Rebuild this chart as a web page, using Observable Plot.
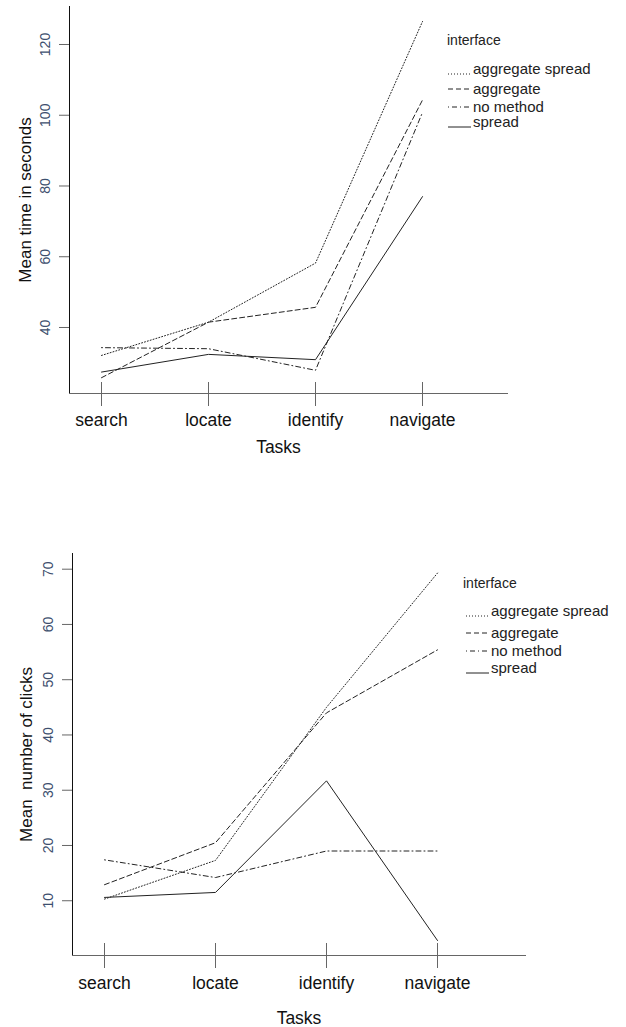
<!DOCTYPE html>
<html>
<head>
<meta charset="utf-8">
<script src="https://cdn.jsdelivr.net/npm/d3@7"></script>
<script src="https://cdn.jsdelivr.net/npm/@observablehq/plot@0.6"></script>
<style>
  html, body { margin: 0; padding: 0; background: #fff; }
  .panel { position: relative; width: 626px; }
  .panel svg { display: block; }
  .legend { position: absolute; font-family: "Liberation Sans", Arial, sans-serif; color: #222; }
  .legend .title { position: absolute; font-size: 14px; white-space: nowrap; line-height: 1; }
  .legend .row { position: absolute; font-size: 15px; white-space: nowrap; line-height: 1; }
  .legend svg { position: absolute; overflow: visible; }
</style>
</head>
<body>
<div id="top" class="panel"></div>
<div id="bottom" class="panel"></div>
<script>
// ---- data ----
const tasks = ["search", "locate", "identify", "navigate"];
const interfaces = ["aggregate spread", "aggregate", "no method", "spread"];

// Mean time in seconds
const timeAggregateSpread = [32.1, 41.5, 58.2, 126.5];
const timeAggregate       = [25.8, 41.5, 45.7, 104.3];
const timeNoMethod        = [34.3, 34.0, 27.9, 100.8];
const timeSpread          = [27.4, 32.4, 30.9, 77.0];

// Mean number of clicks
const clicksAggregateSpread = [10.3, 17.3, 45.0, 69.3];
const clicksAggregate       = [12.9, 20.5, 44.0, 55.4];
const clicksNoMethod        = [17.4, 14.2, 19.0, 19.0];
const clicksSpread          = [10.6, 11.5, 31.7, 2.8];

const timeTicks = [40, 60, 80, 100, 120];
const clickTicks = [10, 20, 30, 40, 50, 60, 70];

// ---- styles ----
const dashes = {
  "aggregate spread": "1,2",
  "aggregate": "5,3",
  "no method": "1,3,5,3",
  "spread": null
};
const font = "'Liberation Sans', Arial, sans-serif";
const tickColor = "#3d4f6e";
const lineColor = "#222";
const axisGray = "#666";

function rows(series) {
  const out = [];
  interfaces.forEach((iface, i) => {
    series[i].forEach((v, j) => out.push({task: tasks[j], iface, value: v}));
  });
  return out;
}

function panel(cfg) {
  const data = rows(cfg.series);
  const frameH = cfg.height - cfg.marginTop - cfg.marginBottom;
  const frameW = 626 - cfg.marginLeft - cfg.marginRight;
  const marks = [];
  for (const iface of interfaces) {
    marks.push(Plot.line(data.filter(d => d.iface === iface), {
      x: "task", y: "value", stroke: lineColor, strokeWidth: 1,
      strokeDasharray: dashes[iface]
    }));
  }
  marks.push(
    Plot.frame({anchor: "left", stroke: "#111"}),
    Plot.frame({anchor: "bottom", stroke: axisGray}),
    // y ticks (outward)
    Plot.ruleY(cfg.ticks, {y: d => d, insetLeft: -10, insetRight: frameW, stroke: axisGray}),
    Plot.text(cfg.ticks, {y: d => d, text: d => String(d), frameAnchor: "left", dx: -24,
      rotate: -90, textAnchor: "middle", lineAnchor: "middle", fontSize: 14, fill: tickColor}),
    Plot.text([cfg.ylabel], {frameAnchor: "left", dx: cfg.ylabelDx, rotate: -90,
      textAnchor: "middle", lineAnchor: "middle", fontSize: 17, fill: "#111"}),
    // x ticks crossing the axis line
    Plot.ruleX(tasks, {x: d => d, insetTop: frameH - cfg.tickUp, insetBottom: -cfg.tickDown, stroke: axisGray}),
    Plot.text(tasks, {x: d => d, frameAnchor: "bottom", dy: cfg.labelDy, lineAnchor: "middle",
      fontSize: 17.5, fill: "#111"}),
    Plot.text(["Tasks"], {frameAnchor: "bottom", dy: cfg.titleDy, dx: cfg.titleDx, lineAnchor: "middle",
      fontSize: 17.5, fill: "#111"})
  );
  return Plot.plot({
    width: 626,
    height: cfg.height,
    marginTop: cfg.marginTop,
    marginBottom: cfg.marginBottom,
    marginLeft: cfg.marginLeft,
    marginRight: cfg.marginRight,
    style: {fontFamily: font, background: "#fff"},
    x: {type: "point", domain: tasks, range: cfg.xRange, padding: 0, axis: null},
    y: {domain: cfg.yDomain, axis: null},
    marks
  });
}

function legend(container, cfg) {
  const lg = document.createElement("div");
  lg.className = "legend";
  lg.style.left = "0px"; lg.style.top = "0px";
  const t = document.createElement("div");
  t.className = "title";
  t.textContent = "interface";
  t.style.left = cfg.titleX + "px";
  t.style.top = (cfg.titleY - 7) + "px";
  lg.appendChild(t);
  const ns = "http://www.w3.org/2000/svg";
  interfaces.forEach((iface, i) => {
    const cy = cfg.rows[i];
    const r = document.createElement("div");
    r.className = "row";
    r.textContent = iface;
    r.style.left = cfg.textX + "px";
    r.style.top = (cy - 8) + "px";
    lg.appendChild(r);
    const s = document.createElementNS(ns, "svg");
    s.setAttribute("width", 30); s.setAttribute("height", 20);
    s.style.left = cfg.sampleX0 + "px";
    s.style.top = (cy - 10) + "px";
    const ln = document.createElementNS(ns, "line");
    const off = (iface === "aggregate spread" || iface === "spread") ? 15 : 10;
    ln.setAttribute("x1", 0); ln.setAttribute("x2", cfg.sampleX1 - cfg.sampleX0);
    ln.setAttribute("y1", off); ln.setAttribute("y2", off);
    ln.setAttribute("stroke", lineColor);
    ln.setAttribute("stroke-width", 1);
    if (dashes[iface]) ln.setAttribute("stroke-dasharray", dashes[iface]);
    s.appendChild(ln);
    lg.appendChild(s);
  });
  container.appendChild(lg);
}

const topEl = document.getElementById("top");
topEl.appendChild(panel({
  series: [timeAggregateSpread, timeAggregate, timeNoMethod, timeSpread],
  ticks: timeTicks,
  ylabel: "Mean time in seconds",
  ylabelDx: -44,
  height: 470, marginTop: 6, marginBottom: 77, marginLeft: 69, marginRight: 119,
  yDomain: [21.34, 130.74],
  xRange: [101, 422],
  tickUp: 11, tickDown: 13, labelDy: 27, titleDy: 54, titleDx: -10
}));
legend(topEl, {titleX: 447, titleY: 40, rows: [69, 89, 107, 122], textX: 473, sampleX0: 448, sampleX1: 471});

const botEl = document.getElementById("bottom");
botEl.appendChild(panel({
  series: [clicksAggregateSpread, clicksAggregate, clicksNoMethod, clicksSpread],
  ticks: clickTicks,
  ylabel: "Mean  number of clicks",
  ylabelDx: -46,
  height: 557, marginTop: 83, marginBottom: 72, marginLeft: 72, marginRight: 101,
  yDomain: [0.09, 72.84],
  xRange: [103, 437],
  tickUp: 12, tickDown: 13, labelDy: 28, titleDy: 63, titleDx: 0
}));
legend(botEl, {titleX: 463, titleY: 583 - 470, rows: [611 - 470, 633 - 470, 651 - 470, 668 - 470], textX: 491, sampleX0: 466, sampleX1: 489});
</script>
</body>
</html>
